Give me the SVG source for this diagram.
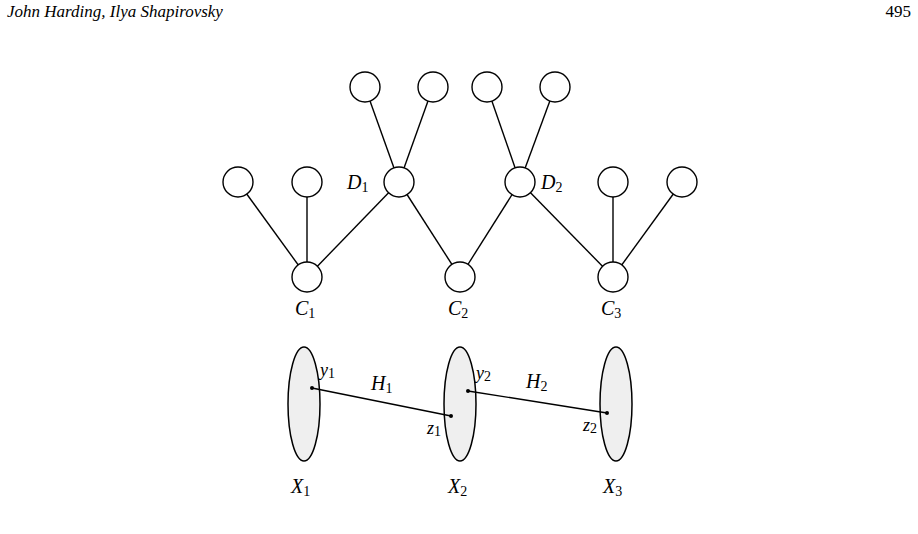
<svg xmlns="http://www.w3.org/2000/svg" width="918" height="534" viewBox="0 0 918 534">
<style>
.n{fill:#fff;stroke:#000;stroke-width:1.4}
.e{stroke:#000;stroke-width:1.4;fill:none}
.s{fill:#efefef;stroke:#000;stroke-width:1.5}
.t{font-family:"Liberation Serif","Times New Roman",serif;font-style:italic;font-size:20px;fill:#000}
.sm{font-family:"Liberation Serif","Times New Roman",serif;font-style:italic;font-size:18px;fill:#000}
.sub{font-style:normal;font-size:14px}
.h{font-family:"Liberation Serif","Times New Roman",serif;font-size:17px;fill:#000}
</style>
<rect width="918" height="534" fill="#fff"/>
<text class="h" x="7" y="17" font-style="italic">John Harding, Ilya Shapirovsky</text>
<text class="h" x="911" y="17" text-anchor="end">495</text>
<g id="connectors">
<line class="e" x1="307" y1="277" x2="238" y2="182"/>
<line class="e" x1="307" y1="277" x2="307" y2="182"/>
<line class="e" x1="307" y1="277" x2="399" y2="182"/>
<line class="e" x1="460" y1="277" x2="399" y2="182"/>
<line class="e" x1="460" y1="277" x2="520" y2="182"/>
<line class="e" x1="613" y1="277" x2="520" y2="182"/>
<line class="e" x1="613" y1="277" x2="613" y2="182"/>
<line class="e" x1="613" y1="277" x2="682" y2="182"/>
<line class="e" x1="399" y1="182" x2="365" y2="87"/>
<line class="e" x1="399" y1="182" x2="433" y2="87"/>
<line class="e" x1="520" y1="182" x2="487" y2="87"/>
<line class="e" x1="520" y1="182" x2="555" y2="87"/>
</g>
<g id="top1"><circle class="n" cx="365" cy="87" r="15"/></g>
<g id="top2"><circle class="n" cx="433" cy="87" r="15"/></g>
<g id="top3"><circle class="n" cx="487" cy="87" r="15"/></g>
<g id="top4"><circle class="n" cx="555" cy="87" r="15"/></g>
<g id="mid1"><circle class="n" cx="238" cy="182" r="15"/></g>
<g id="mid2"><circle class="n" cx="307" cy="182" r="15"/></g>
<g id="D1"><circle class="n" cx="399" cy="182" r="15"/><text class="t" x="347" y="189">D<tspan class="sub" dy="3">1</tspan></text></g>
<g id="D2"><circle class="n" cx="520" cy="182" r="15"/><text class="t" x="541" y="189">D<tspan class="sub" dy="3">2</tspan></text></g>
<g id="mid5"><circle class="n" cx="613" cy="182" r="15"/></g>
<g id="mid6"><circle class="n" cx="682" cy="182" r="15"/></g>
<g id="C1"><circle class="n" cx="307" cy="277" r="15"/><text class="t" x="295" y="315">C<tspan class="sub" dy="3">1</tspan></text></g>
<g id="C2"><circle class="n" cx="460" cy="277" r="15"/><text class="t" x="448" y="315">C<tspan class="sub" dy="3">2</tspan></text></g>
<g id="C3"><circle class="n" cx="613" cy="277" r="15"/><text class="t" x="601" y="315">C<tspan class="sub" dy="3">3</tspan></text></g>
<g id="X1"><ellipse class="s" cx="304" cy="404" rx="16" ry="57"/><text class="t" x="291" y="493">X<tspan class="sub" dy="3">1</tspan></text></g>
<g id="X2"><ellipse class="s" cx="460" cy="404" rx="16" ry="57"/><text class="t" x="448" y="493">X<tspan class="sub" dy="3">2</tspan></text></g>
<g id="X3"><ellipse class="s" cx="616" cy="404" rx="16" ry="57"/><text class="t" x="603" y="493">X<tspan class="sub" dy="3">3</tspan></text></g>
<g id="edges-bottom">
<line class="e" x1="312" y1="388" x2="451" y2="416"/>
<line class="e" x1="468" y1="391" x2="607" y2="413"/>
<circle cx="312" cy="388" r="2" fill="#000"/>
<circle cx="451" cy="416" r="2" fill="#000"/>
<circle cx="468" cy="391" r="2" fill="#000"/>
<circle cx="607" cy="413" r="2" fill="#000"/>
</g>
<g id="labels">
<text class="sm" x="320" y="376">y<tspan class="sub" dy="2">1</tspan></text>
<text class="t" x="371" y="390">H<tspan class="sub" dy="3">1</tspan></text>
<text class="sm" x="427" y="434">z<tspan class="sub" dy="2">1</tspan></text>
<text class="sm" x="476" y="379">y<tspan class="sub" dy="2">2</tspan></text>
<text class="t" x="526" y="388">H<tspan class="sub" dy="3">2</tspan></text>
<text class="sm" x="583" y="431">z<tspan class="sub" dy="2">2</tspan></text>
</g>
</svg>
